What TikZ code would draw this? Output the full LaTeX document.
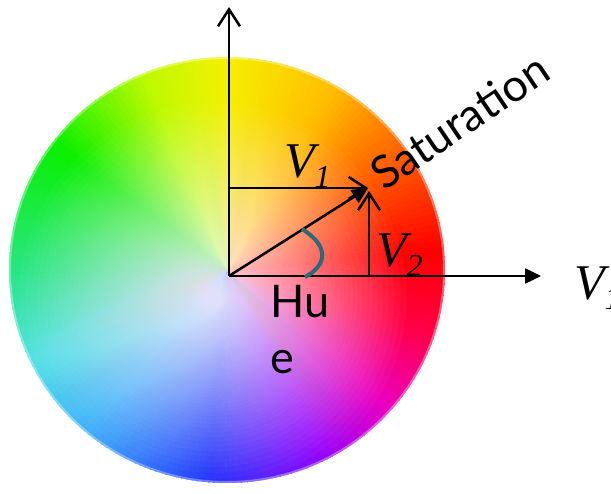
\documentclass[tikz,border=0pt]{standalone}
\usepackage{fontspec}
\setmainfont{Liberation Serif}
\newfontfamily\hufont{Lato}
\usetikzlibrary{arrows.meta}
\definecolor{h0}{RGB}{40,230,130}
\definecolor{h1}{RGB}{80,225,230}
\definecolor{h2}{RGB}{50,170,250}
\definecolor{h3}{RGB}{20,40,250}
\definecolor{h4}{RGB}{150,0,250}
\definecolor{h5}{RGB}{235,0,190}
\definecolor{h6}{RGB}{255,0,70}
\definecolor{h7}{RGB}{255,0,0}
\definecolor{h8}{RGB}{255,100,0}
\definecolor{h9}{RGB}{255,190,0}
\definecolor{h10}{RGB}{245,240,0}
\definecolor{h11}{RGB}{190,250,0}
\definecolor{h12}{RGB}{10,240,0}
\definecolor{huearc}{RGB}{44,106,122}
\tikzset{
  axisline/.style={line width=2.5pt, black},
  barbtip/.style={-{Straight Barb[length=17pt,width=22pt]}},
  filltip/.style={-{Triangle[length=16pt,width=15pt]}},
  vlabel/.style={anchor=base west, inner sep=0pt, font=\fontsize{50}{50}\selectfont\itshape},
  sanslabel/.style={inner sep=0pt, font=\hufont\fontsize{45}{56}\selectfont},
}
\newcommand{\Vsub}[1]{V\raisebox{-10pt}{\fontsize{32}{32}\selectfont #1}}
\begin{document}
\begin{tikzpicture}[x=1pt,y=-1pt]
\useasboundingbox (0,0) rectangle (611,494);
\coordinate (C) at (227,270);
\coordinate (W) at (213,297);
% colour wheel
\begin{scope}
  \clip (C) ellipse [x radius=218pt, y radius=213pt];
  \foreach \a/\b/\ca/\cb in {-180/-155/h0/h1, -155/-130/h1/h2, -130/-95/h2/h3, -95/-62/h3/h4,
      -62/-40/h4/h5, -40/-17/h5/h6, -17/5/h6/h7, 5/35/h7/h8, 35/60/h8/h9, 60/90/h9/h10,
      90/113/h10/h11, 113/144/h11/h12, 144/180/h12/h0}{
    \pgfmathtruncatemacro{\n}{ceil((\b-\a)/1.5)}
    \foreach \k in {1,...,\n}{
      \pgfmathsetmacro{\s}{\a+(\b-\a)*(\k-1)/\n}
      \pgfmathsetmacro{\e}{\a+(\b-\a)*\k/\n}
      \pgfmathsetmacro{\p}{100*(\k-0.5)/\n}
      \fill[\cb!\p!\ca, draw=\cb!\p!\ca, line width=0.8pt]
        (C) -- ({227+240*cos(\s)},{270-240*sin(\s)}) -- ({227+240*cos(\e)},{270-240*sin(\e)}) -- cycle;
    }
  }
  % white centre: stacked translucent discs give a linear fade
  \foreach \k in {1,...,98}{
    \pgfmathsetmacro{\r}{200*(1-(1-0.97^\k)/0.95)}
    \fill[white, opacity=0.03] (W) circle (\r pt);
  }
  % soft rim
  \draw[white, opacity=0.35, line width=4pt] (C) ellipse [x radius=218pt, y radius=213pt];
\end{scope}
% coordinates
\coordinate (O) at (229,276);
\coordinate (Ytop) at (229,7);
\coordinate (Xend) at (541,276);
\coordinate (A) at (229,188);
\coordinate (P) at (368,188);
\coordinate (B) at (369,276);
\coordinate (Q) at (369,191);
\coordinate (h1) at (302,229);
\coordinate (h2) at (305,277);
% axes and vectors
\draw[axisline, barbtip] (O) -- (Ytop);
\draw[axisline, filltip] (O) -- (Xend);
\draw[axisline, barbtip] (A) -- (P);
\draw[axisline, filltip] (O) -- (P);
\draw[axisline, barbtip] (B) -- (Q);
\draw[huearc, line width=4pt] (h1) .. controls (331,247) and (326,266) .. (h2);
% labels
\node[vlabel] (lv1) at (284,178) {\Vsub{1}};
\node[vlabel] (lv2) at (376,267) {\Vsub{2}};
\node[vlabel] (lv1r) at (574,300) {\Vsub{1}};
\node[sanslabel, anchor=base west, rotate=34] (sat) at (384,192) {Saturation};
\node[sanslabel, anchor=north west, align=left] (hue) at (270,285) {Hu\\e};
\end{tikzpicture}
\end{document}
